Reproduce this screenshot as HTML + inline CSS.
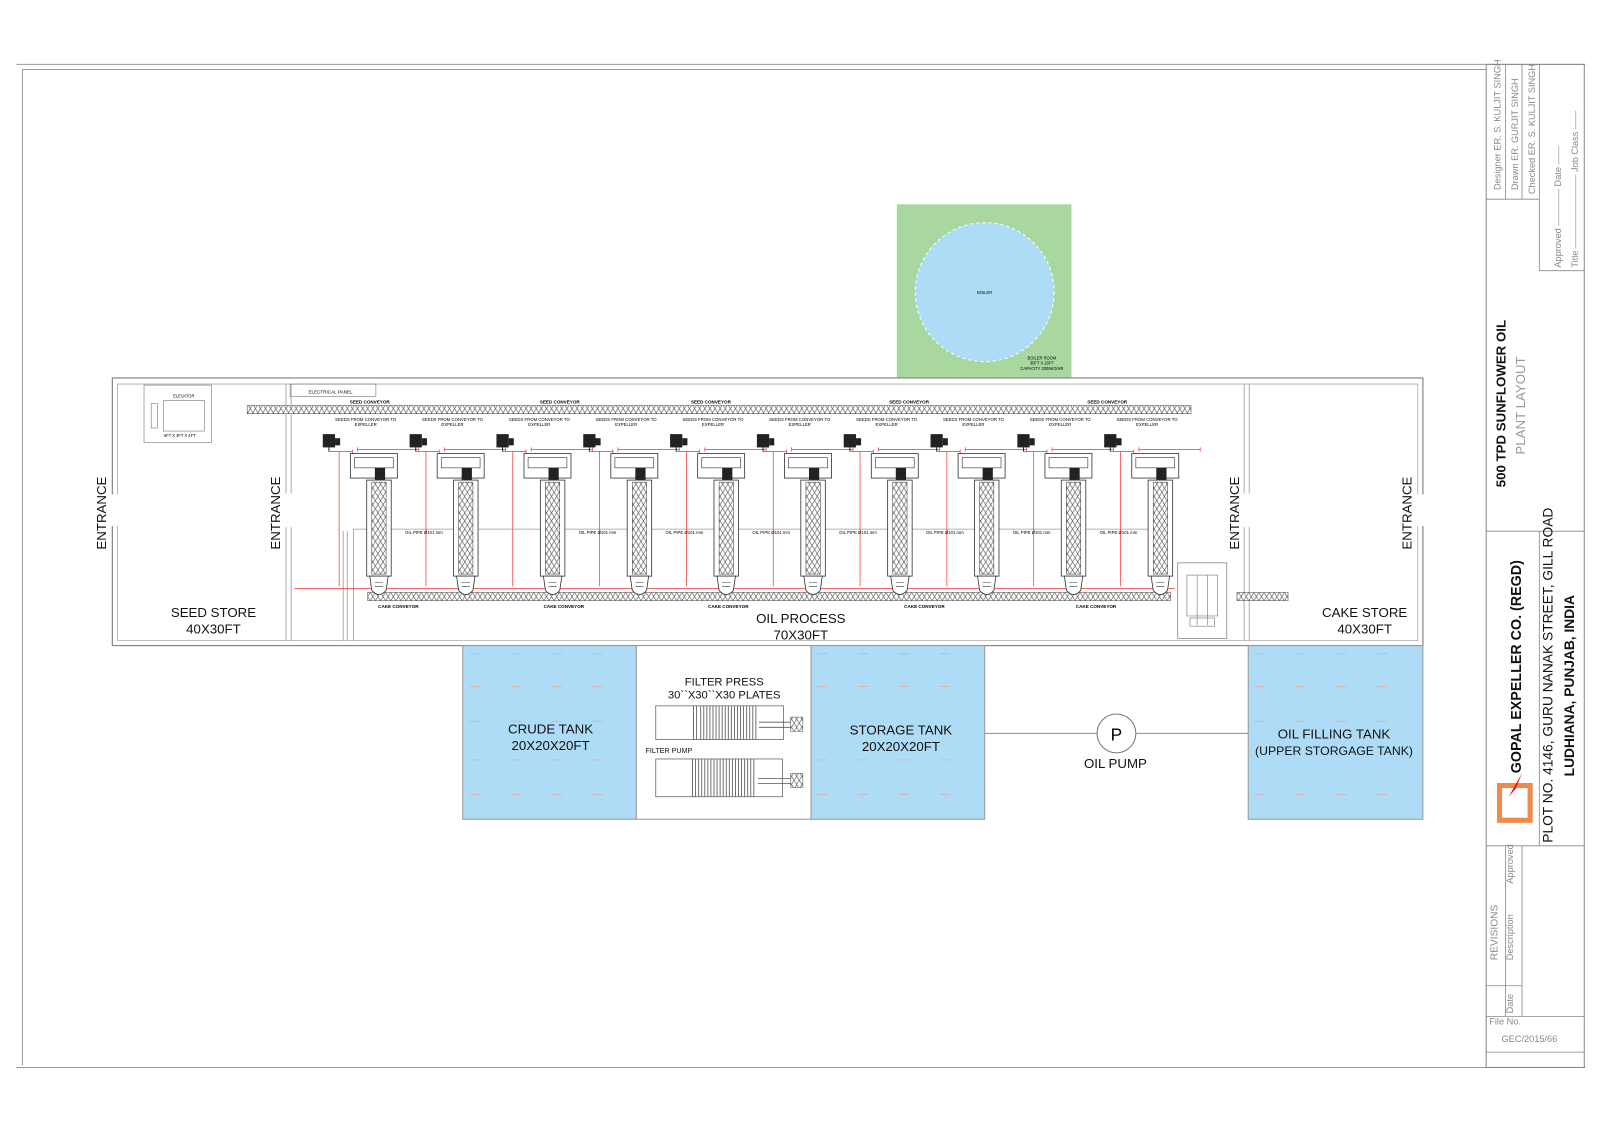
<!DOCTYPE html>
<html><head><meta charset="utf-8"><style>
html,body{margin:0;padding:0;background:#fff;overflow:hidden;width:1600px;height:1131px;}
svg{display:block;font-family:"Liberation Sans",sans-serif;position:absolute;left:0;top:0;}
</style></head><body>
<svg width="1600" height="1131" viewBox="0 0 1566.4 1107.2" preserveAspectRatio="none" xmlns="http://www.w3.org/2000/svg">
<defs>
<pattern id="hatch" width="5" height="8" patternUnits="userSpaceOnUse">
<rect width="5" height="8" fill="#fff"/>
<path d="M0 0L2.5 4L5 0M0 8L2.5 4L5 8" stroke="#555" stroke-width="0.6" fill="none"/>
</pattern>
<g id="exp">
<rect x="-54" y="-5" width="12" height="13" fill="#222"/>
<rect x="-42" y="-1" width="5" height="7" fill="#222"/>
<line x1="-48" y1="8" x2="-48" y2="12" stroke="#222"/>
<path d="M-48 12H-25M-25 10V14M-20 10H40M-20 8V12M40 8V12" stroke="#e33" stroke-width="0.7" fill="none"/>
<line x1="-38" y1="12" x2="-38" y2="144" stroke="#e33" stroke-width="0.7"/>
<rect x="-27" y="14" width="46" height="24" fill="#fff" stroke="#333" stroke-width="0.8"/>
<rect x="-23" y="18" width="38" height="10" fill="none" stroke="#333" stroke-width="0.6"/>
<rect x="-3" y="28" width="10" height="12" fill="#222"/>
<rect x="-11" y="40" width="24" height="94" fill="#fff" stroke="#333" stroke-width="0.8"/>
<rect x="-6" y="42" width="14" height="90" fill="url(#hatch)" stroke="#333" stroke-width="0.5"/>
<path d="M-8 134L-6 148Q1 156 8 148L10 134Z" fill="#fff" stroke="#333" stroke-width="0.8"/>
<path d="M-3 140h8M-3 144h8" stroke="#333" stroke-width="0.6"/>
</g>
</defs>

<path d="M16 63H1552M22 68H1455M22 68V1043M16 1045H1552" stroke="#999" stroke-width="1" fill="none"/>
<rect x="1455" y="63" width="96" height="982" fill="none" stroke="#888" stroke-width="1"/>
<path d="M1474 63V195M1490 63V195M1507 63V265M1455 195H1507M1507 265H1551M1455 520H1551M1455 828H1551M1474 828V995M1490 828V995M1455 995H1551M1455 1030H1551M1507 520V828M1455 965H1490" stroke="#888" stroke-width="0.8" fill="none"/>
<g fill="#888" font-size="9">
<text transform="translate(1469,186) rotate(-90)">Designer ER. S. KULJIT SINGH</text>
<text transform="translate(1486,186) rotate(-90)">Drawn  ER. GURJIT SINGH</text>
<text transform="translate(1503,190) rotate(-90)">Checked ER. S. KULJIT SINGH</text>
<text transform="translate(1528,262) rotate(-90)">Approved ———— Date ——</text>
<text transform="translate(1545,262) rotate(-90)">Title ———————— Job Class ——</text>
<text transform="translate(1466,940) rotate(-90)" font-size="10">REVISIONS</text>
<text transform="translate(1481,940) rotate(-90)">Description</text>
<text transform="translate(1481,865) rotate(-90)">Approved</text>
<text transform="translate(1481,992) rotate(-90)">Date</text>
<text x="1458" y="1003">File No.</text>
<text x="1470" y="1020">GEC/2015/66</text>
</g>
<text transform="translate(1474,477) rotate(-90)" font-size="13" font-weight="bold" fill="#111">500 TPD SUNFLOWER OIL</text>
<text transform="translate(1493,445) rotate(-90)" font-size="13" fill="#999">PLANT LAYOUT</text>
<text transform="translate(1489,757) rotate(-90)" font-size="14" font-weight="bold" fill="#111">GOPAL EXPELLER CO. (REGD)</text>
<text transform="translate(1520,825) rotate(-90)" font-size="13.5" fill="#111">PLOT NO. 4146, GURU NANAK STREET, GILL ROAD</text>
<text transform="translate(1541,760) rotate(-90)" font-size="13.5" font-weight="bold" fill="#111">LUDHIANA, PUNJAB, INDIA</text>
<rect x="1468" y="769" width="30" height="34" fill="none" stroke="#ee8a4a" stroke-width="5"/>
<path d="M1477 780L1490 757L1484 772Z" fill="#e11"/>

<rect x="878" y="200" width="171" height="170" fill="#a8d8a0"/>
<circle cx="964" cy="286" r="68" fill="#aedcf6" stroke="#fff" stroke-dasharray="3 3"/>
<text x="964" y="288" font-size="4" text-anchor="middle">BOILER</text>
<text x="1020" y="352" font-size="4" text-anchor="middle">BOILER ROOM</text>
<text x="1020" y="357" font-size="4" text-anchor="middle">30FT X 20FT</text>
<text x="1020" y="362" font-size="4" text-anchor="middle">CAPACITY 2000KG/HR</text>

<rect x="110" y="370" width="1283" height="262" fill="#fff" stroke="#888" stroke-width="1.2"/>
<path d="M115 376H1388V627H115Z" fill="none" stroke="#aaa" stroke-width="0.8"/>
<path d="M280 376V483M280 516V627M285 376V483M285 516V627M1218 376V483M1218 516V627M1223 376V483M1223 516V627M340 520V627M336 520V627" stroke="#999" stroke-width="0.8"/>
<rect x="108" y="484" width="10" height="31" fill="#fff"/>
<rect x="1386" y="484" width="10" height="31" fill="#fff"/>
<g font-size="13" fill="#111">
<text transform="translate(104,538) rotate(-90)">ENTRANCE</text>
<text transform="translate(274,538) rotate(-90)">ENTRANCE</text>
<text transform="translate(1213,538) rotate(-90)">ENTRANCE</text>
<text transform="translate(1382,538) rotate(-90)">ENTRANCE</text>
<text x="209" y="604" text-anchor="middle">SEED STORE</text>
<text x="209" y="620" text-anchor="middle">40X30FT</text>
<text x="784" y="610" text-anchor="middle">OIL PROCESS</text>
<text x="784" y="626" text-anchor="middle">70X30FT</text>
<text x="1336" y="604" text-anchor="middle">CAKE STORE</text>
<text x="1336" y="620" text-anchor="middle">40X30FT</text>
</g>
<rect x="141" y="377" width="66" height="56" fill="none" stroke="#777" stroke-width="0.6"/>
<rect x="160" y="392" width="40" height="30" fill="none" stroke="#777" stroke-width="0.6"/>
<rect x="148" y="395" width="6" height="24" fill="none" stroke="#777" stroke-width="0.6"/>
<text x="180" y="389" font-size="4" text-anchor="middle">ELEVATOR</text>
<text x="176" y="428" font-size="4" text-anchor="middle">6FT X 3FT X 4FT</text>
<rect x="284" y="376" width="84" height="12" fill="none" stroke="#777" stroke-width="0.6"/>
<text x="302" y="385" font-size="4.5">ELECTRICAL PANEL</text>

<rect x="242" y="397" width="924" height="8" fill="url(#hatch)" stroke="#444" stroke-width="0.5"/>
<rect x="360" y="580" width="786" height="8" fill="url(#hatch)" stroke="#444" stroke-width="0.5"/>
<rect x="1211" y="580" width="50" height="8" fill="url(#hatch)" stroke="#444" stroke-width="0.5"/>
<g font-size="4.5" font-weight="bold" text-anchor="middle">
<text x="362" y="395">SEED CONVEYOR</text><text x="548" y="395">SEED CONVEYOR</text><text x="696" y="395">SEED CONVEYOR</text><text x="890" y="395">SEED CONVEYOR</text><text x="1084" y="395">SEED CONVEYOR</text>
<text x="390" y="595">CAKE CONVEYOR</text><text x="552" y="595">CAKE CONVEYOR</text><text x="713" y="595">CAKE CONVEYOR</text><text x="905" y="595">CAKE CONVEYOR</text><text x="1073" y="595">CAKE CONVEYOR</text>
</g>
<path d="M346 518H1145M346 518V627" stroke="#999" stroke-width="0.8" fill="none"/>
<line x1="288" y1="576" x2="1150" y2="576" stroke="#e33" stroke-width="0.7"/>
<rect x="1153" y="551" width="48" height="74" fill="#fff" stroke="#777" stroke-width="0.7"/>
<rect x="1162" y="563" width="30" height="40" fill="none" stroke="#777" stroke-width="0.6"/>
<path d="M1172 563V612M1182 563V612" stroke="#777" stroke-width="0.6"/>
<rect x="1165" y="605" width="24" height="8" fill="none" stroke="#777" stroke-width="0.6"/>

<g>
<g transform="translate(370,430)"><use href="#exp"/></g>
<g transform="translate(455,430)"><use href="#exp"/></g>
<g transform="translate(540,430)"><use href="#exp"/></g>
<g transform="translate(625,430)"><use href="#exp"/></g>
<g transform="translate(710,430)"><use href="#exp"/></g>
<g transform="translate(795,430)"><use href="#exp"/></g>
<g transform="translate(880,430)"><use href="#exp"/></g>
<g transform="translate(965,430)"><use href="#exp"/></g>
<g transform="translate(1050,430)"><use href="#exp"/></g>
<g transform="translate(1135,430)"><use href="#exp"/></g>
</g>
<g font-size="4.2" text-anchor="middle">
<text x="358" y="412">SEEDS FROM CONVEYOR TO</text><text x="443" y="412">SEEDS FROM CONVEYOR TO</text><text x="528" y="412">SEEDS FROM CONVEYOR TO</text><text x="613" y="412">SEEDS FROM CONVEYOR TO</text><text x="698" y="412">SEEDS FROM CONVEYOR TO</text><text x="783" y="412">SEEDS FROM CONVEYOR TO</text><text x="868" y="412">SEEDS FROM CONVEYOR TO</text><text x="953" y="412">SEEDS FROM CONVEYOR TO</text><text x="1038" y="412">SEEDS FROM CONVEYOR TO</text><text x="1123" y="412">SEEDS FROM CONVEYOR TO</text>
<text x="358" y="417">EXPELLER</text><text x="443" y="417">EXPELLER</text><text x="528" y="417">EXPELLER</text><text x="613" y="417">EXPELLER</text><text x="698" y="417">EXPELLER</text><text x="783" y="417">EXPELLER</text><text x="868" y="417">EXPELLER</text><text x="953" y="417">EXPELLER</text><text x="1038" y="417">EXPELLER</text><text x="1123" y="417">EXPELLER</text>
<text x="415" y="523">OIL PIPE Ø101 mm</text><text x="585" y="523">OIL PIPE Ø101 mm</text><text x="670" y="523">OIL PIPE Ø101 mm</text><text x="755" y="523">OIL PIPE Ø101 mm</text><text x="840" y="523">OIL PIPE Ø101 mm</text><text x="925" y="523">OIL PIPE Ø101 mm</text><text x="1010" y="523">OIL PIPE Ø101 mm</text><text x="1095" y="523">OIL PIPE Ø101 mm</text>
</g>

<rect x="453" y="632" width="170" height="170" fill="#aedcf6" stroke="#999"/>
<rect x="794" y="632" width="170" height="170" fill="#aedcf6" stroke="#999"/>
<rect x="1222" y="632" width="171" height="170" fill="#aedcf6" stroke="#999"/>
<rect x="623" y="632" width="171" height="170" fill="#fff" stroke="#999"/>
<g stroke="#e8a090" stroke-width="0.6" stroke-dasharray="10 30">
<path d="M460 640H620M460 672H620M460 706H620M460 744H620M460 778H620M800 640H962M800 672H962M800 744H962M800 778H962M1228 640H1390M1228 672H1390M1228 706H1390M1228 778H1390"/>
</g>
<g font-size="13" fill="#111" text-anchor="middle">
<text x="539" y="718">CRUDE TANK</text><text x="539" y="734">20X20X20FT</text>
<text x="882" y="719">STORAGE TANK</text><text x="882" y="735">20X20X20FT</text>
<text x="1306" y="723">OIL FILLING TANK</text><text x="1306" y="739" font-size="12">(UPPER STORGAGE TANK)</text>
<text x="1092" y="752">OIL PUMP</text>
<text x="709" y="671" font-size="11">FILTER PRESS</text>
<text x="709" y="684" font-size="11">30``X30``X30 PLATES</text>
</g>
<text x="632" y="737" font-size="7" fill="#111">FILTER PUMP</text>
<g stroke="#555" stroke-width="0.7" fill="#fff">
<rect x="642" y="691" width="37" height="33"/><rect x="679" y="691" width="88" height="33"/>
<rect x="642" y="743" width="36" height="37"/><rect x="678" y="743" width="88" height="37"/>
</g>
<g stroke="#555" stroke-width="0.8">
<path d="M682 691V724M686 691V724M689 691V724M692 691V724M695 691V724M698 691V724M701 691V724M704 691V724M707 691V724M710 691V724M713 691V724M716 691V724M719 691V724M722 691V724M725 691V724M728 691V724M731 691V724M734 691V724M737 691V724M740 691V724"/>
<path d="M681 743V780M684 743V780M687 743V780M690 743V780M693 743V780M696 743V780M699 743V780M702 743V780M705 743V780M708 743V780M711 743V780M714 743V780M717 743V780M720 743V780M723 743V780M726 743V780M729 743V780M732 743V780M735 743V780M738 743V780"/>
<path d="M743 707H774M743 712H774M742 762H774M742 767H774"/>
</g>
<rect x="774" y="702" width="12" height="14" fill="url(#hatch)" stroke="#555" stroke-width="0.5"/>
<rect x="774" y="757" width="12" height="14" fill="url(#hatch)" stroke="#555" stroke-width="0.5"/>
<line x1="964" y1="718" x2="1222" y2="718" stroke="#999" stroke-width="1"/>
<circle cx="1093" cy="718" r="19" fill="#fff" stroke="#777"/>
<text x="1093" y="725" font-size="17" text-anchor="middle">P</text>
</svg>
</body></html>
